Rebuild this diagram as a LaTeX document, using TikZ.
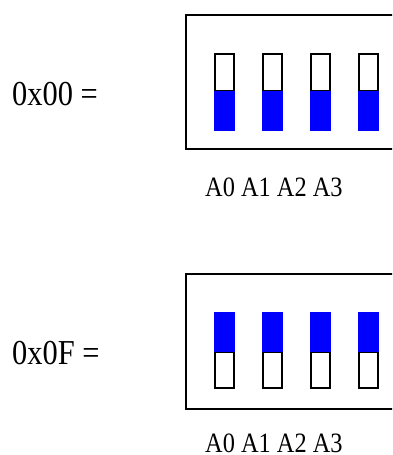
\documentclass[tikz,border=0pt]{standalone}
\usepackage{fontspec}
\setmainfont{Liberation Serif}
\begin{document}
\begin{tikzpicture}[x=1pt,y=-1pt,
  boxline/.style={line width=2pt,draw=black},
  swout/.style={line width=2pt,draw=black,fill=white},
  swfill/.style={fill=blue,draw=none},
  bigtxt/.style={inner sep=0pt,anchor=base west,font=\fontsize{35}{35}\selectfont},
  lbltxt/.style={inner sep=0pt,anchor=base west,font=\fontsize{28}{28}\selectfont}]
\useasboundingbox (0,0) rectangle (392,455);
\clip (0,0) rectangle (392,455);
% top group
\node[bigtxt] (t1) at (12,105.3) {\scalebox{0.87}[1]{0x00 =}};
\draw[boxline] (400,14.7) -- (185.7,14.7) -- (185.7,149.3) -- (400,149.3);
\foreach \x in {213.7,261.7,309.7,357.7}{
  \draw[swout] (\x+1,53.7) rectangle (\x+20.3,91);
  \fill[swfill] (\x,90.7) rectangle (\x+21.3,131);
}
\node[lbltxt] (l1) at (205,196.7) {\scalebox{0.87}[1]{A0 A1 A2 A3}};
% bottom group
\node[bigtxt] (t2) at (12,364.3) {\scalebox{0.87}[1]{0x0F =}};
\draw[boxline] (400,274) -- (185.7,274) -- (185.7,408.7) -- (400,408.7);
\foreach \x in {213.7,261.7,309.7,357.7}{
  \draw[swout] (\x+1,351.5) rectangle (\x+20.3,388.3);
  \fill[swfill] (\x,311.7) rectangle (\x+21.3,351.7);
}
\node[lbltxt] (l2) at (205,452.5) {\scalebox{0.87}[1]{A0 A1 A2 A3}};
\end{tikzpicture}
\end{document}
